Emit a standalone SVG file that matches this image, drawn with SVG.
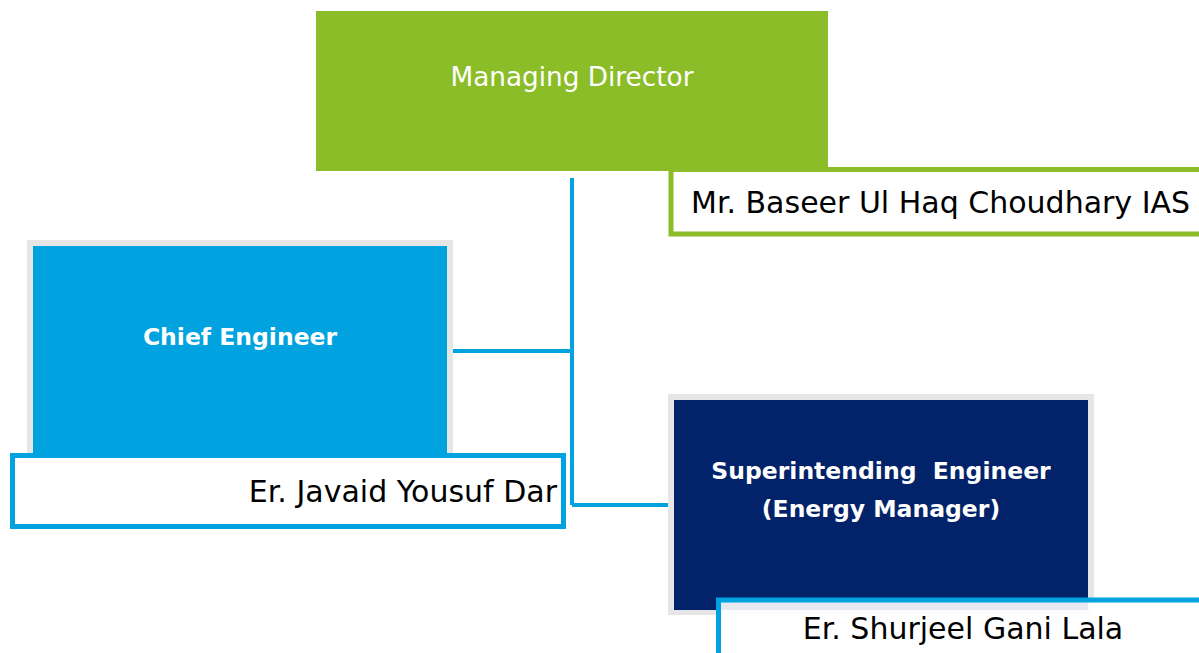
<svg xmlns="http://www.w3.org/2000/svg" width="1199" height="653" viewBox="0 0 1199 653">
<style>
.t{font-family:"DejaVu Sans","Liberation Sans",sans-serif}
.name{font-size:30px;fill:#000}
.role{font-weight:bold;fill:#fff}
.frame{fill:none;stroke:#E6E6E6;stroke-width:6}
.conn{fill:none;stroke:#00A2E0;stroke-width:4}
</style>
<rect width="1199" height="653" fill="#fff"/>
<g id="connectors">
<path class="conn" d="M572 178 V505 M453 351 H572 M572 505 H668"/>
</g>
<g id="managing-director">
<rect x="316" y="11" width="512" height="160" fill="#8BBD28"/>
<text class="t" x="572" y="86" font-size="26.3" fill="#fff" text-anchor="middle">Managing Director</text>
</g>
<g id="md-name">
<rect x="671" y="169.5" width="540" height="64.5" fill="#fff" fill-opacity="0.92" stroke="#8BBD28" stroke-width="5"/>
<text class="t name" x="691" y="213">Mr. Baseer Ul Haq Choudhary IAS</text>
</g>
<g id="chief-engineer">
<rect class="frame" x="30" y="243" width="420" height="213"/>
<rect x="33" y="246" width="414" height="209" fill="#00A2E0"/>
<text class="t role" x="240" y="345" font-size="23.5" text-anchor="middle">Chief Engineer</text>
</g>
<g id="ce-name">
<rect x="12.5" y="455.5" width="551" height="71" fill="#fff" fill-opacity="0.92" stroke="#00A2E0" stroke-width="5"/>
<text class="t name" x="557" y="502" text-anchor="end">Er. Javaid Yousuf Dar</text>
</g>
<g id="superintending-engineer">
<rect class="frame" x="671" y="397" width="420" height="215"/>
<rect x="674" y="400" width="414" height="210" fill="#022369"/>
<text class="t role" x="881" y="479" font-size="23.5" text-anchor="middle" xml:space="preserve">Superintending  Engineer</text>
<text class="t role" x="881" y="517" font-size="23.5" text-anchor="middle">(Energy Manager)</text>
</g>
<g id="se-name">
<rect x="718.5" y="600" width="500" height="70" fill="#fff" fill-opacity="0.9" stroke="#00A2E0" stroke-width="5"/>
<text class="t name" x="963" y="639" text-anchor="middle">Er. Shurjeel Gani Lala</text>
</g>
</svg>
